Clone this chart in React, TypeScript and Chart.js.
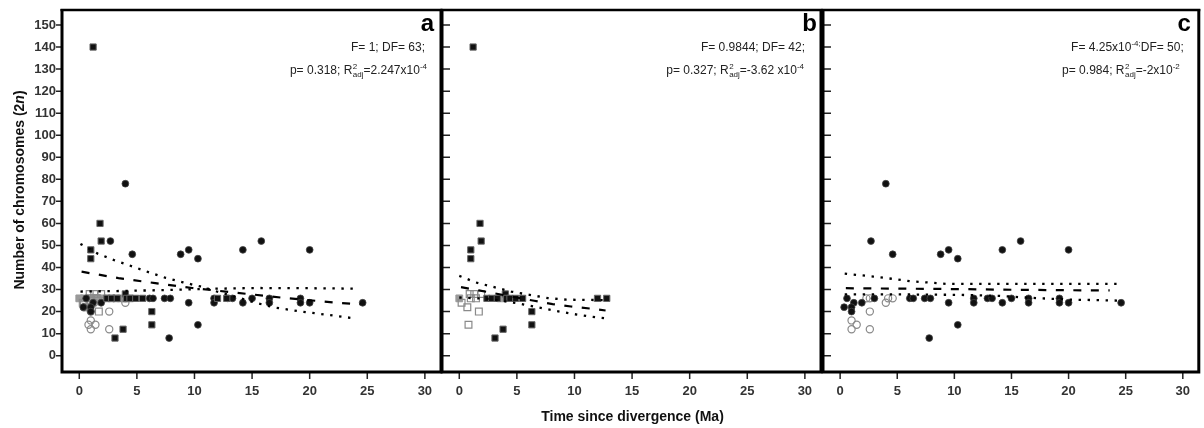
import React, { useEffect, useRef } from "react";
import { Chart, registerables } from "chart.js";
Chart.register(...registerables);

const FONT = '"Liberation Sans", Arial, Helvetica, sans-serif';

// ---- axes ----
const X_TICKS = [0, 5, 10, 15, 20, 25, 30];
const Y_TICKS = [0, 10, 20, 30, 40, 50, 60, 70, 80, 90, 100, 110, 120, 130, 140, 150];
const X_MIN = -1.5;
const X_MAX = 31.4;
const Y_MIN = -7.4;
const Y_MAX = 156.8;

const X_TITLE = "Time since divergence (Ma)";
const Y_TITLE_MAIN = "Number of chromosomes (2";
const Y_TITLE_ITALIC = "n";
const Y_TITLE_END = ")";

// ---- black filled squares (panels a, b) ----
const blackSquareX = [1.2, 1.8, 1.9, 1.0, 1.0, 4.0, 6.3, 6.3, 3.8, 3.1, 2.4, 2.8, 3.3, 4.1, 4.4, 4.9, 5.5, 12.0, 12.8];
const blackSquareY = [140, 60, 52, 48, 44, 28, 20, 14, 12, 8, 26, 26, 26, 26, 26, 26, 26, 26, 26];

// ---- black filled circles (panels a, c) ----
const blackCircleX = [4.0, 2.7, 4.6, 8.8, 9.5, 10.3, 14.2, 15.8, 20.0, 10.3, 7.8, 24.6,
  0.6, 3.0, 6.1, 6.4, 7.4, 7.9, 11.7, 12.9, 13.3, 15.0, 16.5, 19.2,
  1.2, 1.9, 9.5, 11.7, 14.2, 16.5, 19.2, 20.0,
  0.35, 1.0, 1.0];
const blackCircleY = [78, 52, 46, 46, 48, 44, 48, 52, 48, 14, 8, 24,
  26, 26, 26, 26, 26, 26, 26, 26, 26, 26, 26, 26,
  24, 24, 24, 24, 24, 24, 24, 24,
  22, 22, 20];

// ---- gray markers ----
const grayFilledSqAX = [0, 0.4, 0.8, 1.2, 1.6, 2.0, 2.4, 2.8, 3.2, 3.6, 4.0, 4.4];
const grayFilledSqAY = [26, 26, 26, 26, 26, 26, 26, 26, 26, 26, 26, 26];
const grayFilledSqBX = [0, 3.6];
const grayFilledSqBY = [26, 26];

const grayOpenSqAX = [0.3, 0.7, 1.7, 0.9, 1.3, 1.9, 1.0, 1.5];
const grayOpenSqAY = [24, 22, 20, 28, 28, 28, 26, 26];
const grayOpenSqBX = [0.2, 0.7, 1.7, 0.8, 0.9, 1.3, 1.9, 1.0, 1.45];
const grayOpenSqBY = [24, 22, 20, 14, 28, 28, 28, 26, 26];

const grayOpenCircAX = [0.4, 0.4, 0.9, 1.0, 1.3, 1.0, 0.8, 1.4, 1.0, 2.6, 2.6, 4.0, 4.0, 1.6];
const grayOpenCircAY = [24, 22, 22, 20, 24, 16, 14, 14, 12, 20, 12, 24, 26, 26];
const grayOpenCircCX = [1.0, 1.45, 1.0, 2.6, 2.6, 4.0, 2.3, 2.6, 4.2, 4.6];
const grayOpenCircCY = [16, 14, 12, 20, 12, 24, 26, 26, 26, 26];

// ---- regression lines, panel a ----
const fitAX = [0.2, 3.4, 6.6, 9.8, 13.0, 18.0, 22.6, 24.4];
const fitAY = [38.1, 35.2, 32.9, 30.7, 28.9, 26.1, 23.9, 23.4];
const ciA1X = [0.1, 1.6, 3.1, 4.6, 6.0, 7.5, 9.0, 10.5, 12.0, 13.5, 15.3, 17.0, 19.3, 21.6, 24.1];
const ciA1Y = [50.7, 46.3, 43.2, 40.5, 37.9, 35.3, 33.3, 31.4, 29.0, 26.8, 24.0, 21.8, 20.0, 18.5, 16.8];
const ciA2X = [0.1, 3.0, 6.0, 9.0, 12.0, 15.3, 20.0, 24.1];
const ciA2Y = [29.1, 29.3, 29.6, 30.0, 30.4, 30.7, 30.6, 30.4];

// ---- regression lines, panel b ----
const fitBX = [0.15, 1.7, 6.5, 8.1, 9.7, 11.3, 12.7];
const fitBY = [31.1, 29.6, 24.9, 23.4, 22.3, 21.4, 20.5];
const ciB1X = [0, 1.45, 4.5, 6.1, 7.7, 9.3, 10.9, 12.8];
const ciB1Y = [36.2, 33.2, 29.1, 27.6, 26.1, 25.4, 25.3, 25.2];
const ciB2X = [0, 2.5, 4.9, 6.7, 8.3, 9.9, 11.3, 12.9];
const ciB2Y = [26.4, 25.8, 23.9, 22.1, 20.4, 18.9, 17.8, 16.8];

// ---- regression lines, panel c ----
const fitCX = [0.5, 5.6, 10.4, 15.2, 19.9, 23.6];
const fitCY = [30.6, 30.4, 30.2, 29.9, 29.7, 29.6];
const ciC1X = [0.4, 2.9, 4.5, 6.1, 7.7, 9.25, 10.8, 15.0, 20.0, 24.4];
const ciC1Y = [37.2, 35.9, 34.9, 33.8, 33.2, 32.6, 32.6, 32.6, 32.6, 32.6];
const ciC2X = [0.4, 5.0, 10.3, 14.0, 17.2, 20.4, 24.4];
const ciC2Y = [27.8, 27.8, 27.6, 27.1, 26.1, 25.4, 25.0];

// ---- statistics text ----
type Seg = { t: string; k?: "sup" | "stack"; sub?: string };
const STATS_A: Seg[][] = [
  [{ t: "F= 1; DF= 63;" }],
  [{ t: "p= 0.318; R" }, { t: "2", k: "stack", sub: "adj" }, { t: "=2.247x10" }, { t: "-4", k: "sup" }],
];
const STATS_B: Seg[][] = [
  [{ t: "F= 0.9844; DF= 42;" }],
  [{ t: "p= 0.327; R" }, { t: "2", k: "stack", sub: "adj" }, { t: "=-3.62 x10" }, { t: "-4", k: "sup" }],
];
const STATS_C: Seg[][] = [
  [{ t: "F= 4.25x10" }, { t: "-4;", k: "sup" }, { t: "DF= 50;" }],
  [{ t: "p= 0.984; R" }, { t: "2", k: "stack", sub: "adj" }, { t: "=-2x10" }, { t: "-2", k: "sup" }],
];

function pts(xs: number[], ys: number[]) {
  return xs.map((x, i) => ({ x, y: ys[i] }));
}

function blackSquares() {
  return { data: pts(blackSquareX, blackSquareY), pointStyle: "rect", pointRadius: 4.4, pointBackgroundColor: "#111", pointBorderColor: "#666", pointBorderWidth: 1, order: 1 };
}
function blackCircles() {
  return { data: pts(blackCircleX, blackCircleY), pointStyle: "circle", pointRadius: 3.4, pointBackgroundColor: "#111", pointBorderColor: "#444", pointBorderWidth: 0.8, order: 1 };
}
function grayFilled(xs: number[], ys: number[]) {
  return { data: pts(xs, ys), pointStyle: "rect", pointRadius: 4.8, pointBackgroundColor: "#9a9a9a", pointBorderColor: "#9a9a9a", pointBorderWidth: 1, order: 3 };
}
function grayOpenSq(xs: number[], ys: number[]) {
  return { data: pts(xs, ys), pointStyle: "rect", pointRadius: 4.8, pointBackgroundColor: "rgba(255,255,255,0)", pointBorderColor: "#8a8a8a", pointBorderWidth: 1.2, order: 2 };
}
function grayOpenCirc(xs: number[], ys: number[]) {
  return { data: pts(xs, ys), pointStyle: "circle", pointRadius: 3.6, pointBackgroundColor: "rgba(255,255,255,0)", pointBorderColor: "#8a8a8a", pointBorderWidth: 1.2, order: 2 };
}
function dashed(xs: number[], ys: number[]) {
  return { data: pts(xs, ys), showLine: true, pointRadius: 0, borderColor: "#000", borderWidth: 2.2, borderDash: [8, 9.5], fill: false, tension: 0, order: 0 };
}
function dotted(xs: number[], ys: number[]) {
  return { data: pts(xs, ys), showLine: true, pointRadius: 0, borderColor: "#000", borderWidth: 2.3, borderDash: [2.4, 6.6], fill: false, tension: 0, order: 0 };
}

type Panel = {
  key: string; left: number; width: number; padL: number; padR: number;
  yAxis: boolean; yTitle: boolean; xTitle: boolean;
  stats: Seg[][]; statsRight: number[]; letterRight: number; datasets: any[];
};

const PANELS: Panel[] = [
  {
    key: "a", left: 0, width: 452, padL: 0, padR: 11, yAxis: true, yTitle: true, xTitle: false,
    stats: STATS_A, statsRight: [16, 14], letterRight: 7,
    datasets: [
      dashed(fitAX, fitAY), dotted(ciA1X, ciA1Y), dotted(ciA2X, ciA2Y),
      blackSquares(), blackCircles(),
      grayOpenSq(grayOpenSqAX, grayOpenSqAY), grayOpenCirc(grayOpenCircAX, grayOpenCircAY),
      grayFilled(grayFilledSqAX, grayFilledSqAY),
    ],
  },
  {
    key: "b", left: 432, width: 400, padL: 10, padR: 11, yAxis: false, yTitle: false, xTitle: true,
    stats: STATS_B, statsRight: [16, 17], letterRight: 4,
    datasets: [
      dashed(fitBX, fitBY), dotted(ciB1X, ciB1Y), dotted(ciB2X, ciB2Y),
      blackSquares(), grayOpenSq(grayOpenSqBX, grayOpenSqBY), grayFilled(grayFilledSqBX, grayFilledSqBY),
    ],
  },
  {
    key: "c", left: 813, width: 391, padL: 10, padR: 3, yAxis: false, yTitle: false, xTitle: false,
    stats: STATS_C, statsRight: [15, 19], letterRight: 8,
    datasets: [
      dashed(fitCX, fitCY), dotted(ciC1X, ciC1Y), dotted(ciC2X, ciC2Y),
      blackCircles(), grayOpenCirc(grayOpenCircCX, grayOpenCircCY),
    ],
  },
];

function richWidth(ctx: CanvasRenderingContext2D, segs: Seg[], size: number) {
  const big = `${size}px ${FONT}`;
  const small = `${Math.round(size * 0.68)}px ${FONT}`;
  let w = 0;
  for (const s of segs) {
    if (s.k === "stack") {
      ctx.font = small;
      w += Math.max(ctx.measureText(s.t).width, ctx.measureText(s.sub || "").width) + 0.5;
    } else if (s.k === "sup") {
      ctx.font = small;
      w += ctx.measureText(s.t).width;
    } else {
      ctx.font = big;
      w += ctx.measureText(s.t).width;
    }
  }
  return w;
}

function drawRich(ctx: CanvasRenderingContext2D, segs: Seg[], right: number, base: number, size: number) {
  const big = `${size}px ${FONT}`;
  const small = `${Math.round(size * 0.68)}px ${FONT}`;
  let x = right - richWidth(ctx, segs, size);
  ctx.textAlign = "left";
  ctx.textBaseline = "alphabetic";
  for (const s of segs) {
    if (s.k === "stack") {
      ctx.font = small;
      ctx.fillText(s.t, x + 0.5, base - 5);
      ctx.fillText(s.sub || "", x + 0.5, base + 3);
      x += Math.max(ctx.measureText(s.t).width, ctx.measureText(s.sub || "").width) + 0.5;
    } else if (s.k === "sup") {
      ctx.font = small;
      ctx.fillText(s.t, x, base - 5);
      x += ctx.measureText(s.t).width;
    } else {
      ctx.font = big;
      ctx.fillText(s.t, x, base);
      x += ctx.measureText(s.t).width;
    }
  }
}

function panelPlugin(p: Panel) {
  return {
    id: "panelDeco" + p.key,
    afterDatasetsDraw(chart: any) {
      const ctx: CanvasRenderingContext2D = chart.ctx;
      const a = chart.chartArea;
      const xs = chart.scales.x;
      const ys = chart.scales.y;
      ctx.save();
      // tick marks
      ctx.strokeStyle = "#222";
      ctx.lineWidth = 1.5;
      ctx.beginPath();
      for (const v of X_TICKS) {
        const px = xs.getPixelForValue(v);
        ctx.moveTo(px, a.bottom + 1);
        ctx.lineTo(px, a.bottom + 7);
      }
      for (const v of Y_TICKS) {
        const py = ys.getPixelForValue(v);
        if (p.yAxis) {
          ctx.moveTo(a.left - 1, py);
          ctx.lineTo(a.left - 6, py);
        } else {
          ctx.moveTo(a.left + 1, py);
          ctx.lineTo(a.left + 8, py);
        }
      }
      ctx.stroke();
      // frame
      ctx.strokeStyle = "#000";
      ctx.lineWidth = 3;
      ctx.beginPath();
      ctx.moveTo(a.left, a.top - 1);
      ctx.lineTo(a.left, a.bottom + 1.5);
      ctx.moveTo(a.right, a.top - 1);
      ctx.lineTo(a.right, a.bottom + 1.5);
      ctx.moveTo(a.left - 1.5, a.bottom);
      ctx.lineTo(a.right + 1.5, a.bottom);
      ctx.stroke();
      ctx.lineWidth = 2.5;
      ctx.beginPath();
      ctx.moveTo(a.left - 1.5, a.top);
      ctx.lineTo(a.right + 1.5, a.top);
      ctx.stroke();
      // panel letter
      ctx.fillStyle = "#000";
      ctx.font = `bold 24px ${FONT}`;
      ctx.textAlign = "right";
      ctx.textBaseline = "alphabetic";
      ctx.fillText(p.key, a.right - p.letterRight, 31);
      // statistics
      ctx.fillStyle = "#222";
      drawRich(ctx, p.stats[0], a.right - p.statsRight[0], 51, 12);
      drawRich(ctx, p.stats[1], a.right - p.statsRight[1], 74, 12);
      // axis titles
      ctx.fillStyle = "#111";
      if (p.xTitle) {
        ctx.font = `bold 14px ${FONT}`;
        ctx.textAlign = "center";
        ctx.textBaseline = "alphabetic";
        ctx.fillText(X_TITLE, (a.left + a.right) / 2 + 1, 421);
      }
      if (p.yTitle) {
        const bold = `bold 14px ${FONT}`;
        const ital = `italic bold 14px ${FONT}`;
        ctx.font = bold;
        const w1 = ctx.measureText(Y_TITLE_MAIN).width;
        const w3 = ctx.measureText(Y_TITLE_END).width;
        ctx.font = ital;
        const w2 = ctx.measureText(Y_TITLE_ITALIC).width;
        const total = w1 + w2 + w3;
        ctx.translate(24, 190);
        ctx.rotate(-Math.PI / 2);
        ctx.textAlign = "left";
        ctx.textBaseline = "alphabetic";
        let x = -total / 2;
        ctx.font = bold;
        ctx.fillText(Y_TITLE_MAIN, x, 0);
        x += w1;
        ctx.font = ital;
        ctx.fillText(Y_TITLE_ITALIC, x, 0);
        x += w2;
        ctx.font = bold;
        ctx.fillText(Y_TITLE_END, x, 0);
      }
      ctx.restore();
    },
  };
}

function makeConfig(p: Panel): any {
  const gridOpts = { drawOnChartArea: false, drawTicks: true, tickLength: 5, color: "rgba(0,0,0,0)" };
  return {
    type: "scatter",
    data: { datasets: p.datasets },
    options: {
      responsive: false,
      animation: false,
      devicePixelRatio: 1,
      layout: { padding: { left: p.padL, right: p.padR, top: 10, bottom: 0 } },
      plugins: { legend: { display: false }, tooltip: { enabled: false } },
      scales: {
        x: {
          type: "linear",
          min: X_MIN,
          max: X_MAX,
          afterBuildTicks: (s: any) => { s.ticks = X_TICKS.map((v) => ({ value: v })); },
          afterFit: (s: any) => { s.height = 56; },
          grid: { ...gridOpts, tickLength: 6 },
          border: { display: false },
          ticks: { font: { size: 13, weight: "bold", family: FONT }, color: "#333", padding: 6, maxRotation: 0, autoSkip: false },
        },
        y: {
          type: "linear",
          display: p.yAxis,
          min: Y_MIN,
          max: Y_MAX,
          afterBuildTicks: (s: any) => { s.ticks = Y_TICKS.map((v) => ({ value: v })); },
          afterFit: (s: any) => { s.width = p.yAxis ? 62 : 0; },
          grid: gridOpts,
          border: { display: false },
          ticks: { font: { size: 13, weight: "bold", family: FONT }, color: "#333", padding: 1, autoSkip: false },
        },
      },
    },
    plugins: [panelPlugin(p)],
  };
}

export default function App() {
  const refA = useRef<HTMLCanvasElement>(null);
  const refB = useRef<HTMLCanvasElement>(null);
  const refC = useRef<HTMLCanvasElement>(null);
  const refs = [refA, refB, refC];
  useEffect(() => {
    Chart.defaults.font.family = FONT;
    const charts = PANELS.map((p, i) => new Chart(refs[i].current as HTMLCanvasElement, makeConfig(p)));
    return () => charts.forEach((c) => c.destroy());
  }, []);
  return (
    <div style={{ position: "absolute", left: 0, top: 0, width: 1204, height: 428, background: "#fff", overflow: "hidden" }}>
      {PANELS.map((p, i) => (
        <canvas
          key={p.key}
          ref={refs[i]}
          width={p.width}
          height={428}
          style={{ position: "absolute", left: p.left, top: 0, width: p.width, height: 428 }}
        />
      ))}
    </div>
  );
}
